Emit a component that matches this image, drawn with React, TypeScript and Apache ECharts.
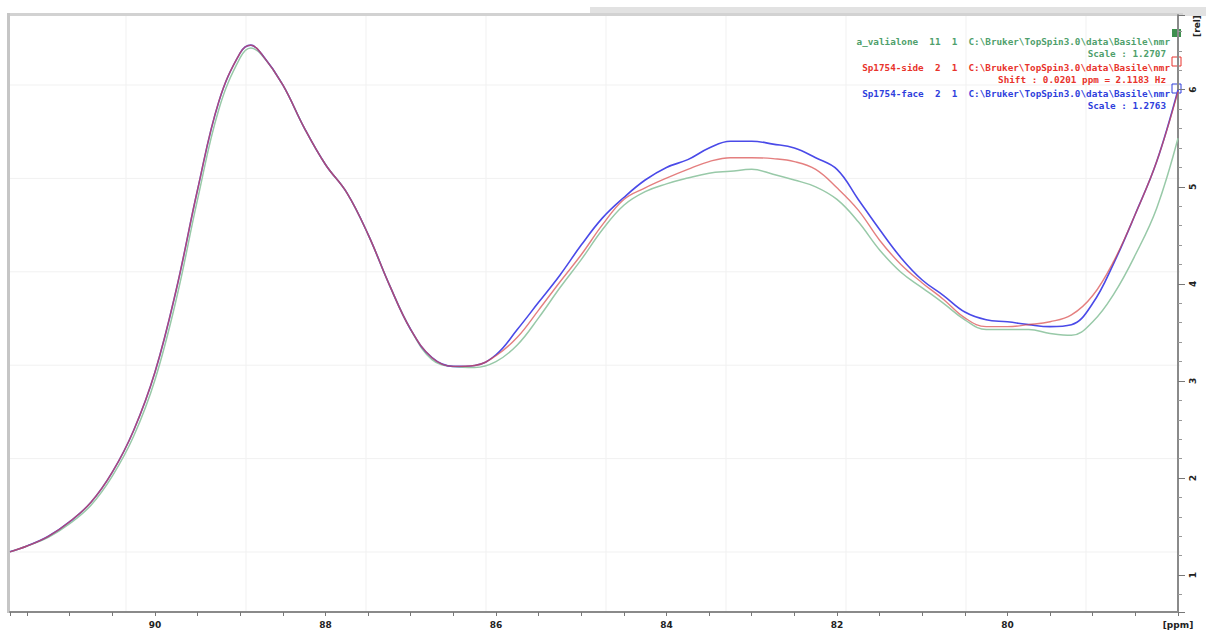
import React, { useEffect, useRef } from "react";
import * as echarts from "echarts";

const ppm = [
  91.7, 91.5, 91.25, 91.0, 90.75, 90.5, 90.25, 90.0, 89.75, 89.5, 89.25, 89.0, 88.875,
  88.75, 88.5, 88.25, 88.0, 87.75, 87.5, 87.25, 87.0, 86.75, 86.5, 86.25, 86.0,
  85.75, 85.5, 85.25, 85.0, 84.75, 84.5, 84.25, 84.0, 83.75, 83.5, 83.25, 83.0,
  82.75, 82.5, 82.25, 82.0, 81.75, 81.5, 81.25, 81.0, 80.75, 80.5, 80.25, 80.0,
  79.75, 79.5, 79.25, 79.0, 78.75, 78.5, 78.25, 78.0,
];

const valialone = [
  1.24, 1.3, 1.39, 1.53, 1.72, 2.02, 2.43, 3.01, 3.84, 4.87, 5.8, 6.33, 6.43,
  6.36, 6.05, 5.61, 5.23, 4.94, 4.51, 3.99, 3.53, 3.22, 3.15, 3.14, 3.2,
  3.37, 3.65, 3.96, 4.25, 4.56, 4.81, 4.95, 5.03, 5.09, 5.14, 5.16, 5.18,
  5.13, 5.07, 5.0, 4.87, 4.64, 4.35, 4.12, 3.96, 3.8, 3.63, 3.53, 3.53,
  3.53, 3.49, 3.47, 3.61, 3.9, 4.3, 4.78, 5.5,
];

const side = [
  1.24, 1.3, 1.4, 1.55, 1.75, 2.06, 2.49, 3.09, 3.94, 4.97, 5.88, 6.38, 6.46,
  6.37, 6.05, 5.61, 5.23, 4.94, 4.51, 3.99, 3.53, 3.24, 3.15, 3.16, 3.26,
  3.45, 3.73, 4.02, 4.3, 4.61, 4.87, 4.99, 5.09, 5.18, 5.26, 5.3, 5.3,
  5.29, 5.26, 5.18, 4.99, 4.76, 4.45, 4.2, 4.01, 3.84, 3.65, 3.56, 3.56,
  3.58, 3.61, 3.68, 3.88, 4.24, 4.72, 5.26, 5.98,
];

const face = [
  1.24, 1.3, 1.4, 1.55, 1.75, 2.06, 2.49, 3.09, 3.94, 4.97, 5.88, 6.38, 6.46,
  6.37, 6.05, 5.61, 5.23, 4.94, 4.51, 3.99, 3.53, 3.24, 3.15, 3.16, 3.27,
  3.53, 3.81, 4.09, 4.4, 4.68, 4.89, 5.07, 5.2, 5.28, 5.4, 5.47, 5.47,
  5.44, 5.4, 5.3, 5.18, 4.87, 4.56, 4.27, 4.04, 3.88, 3.71, 3.63, 3.61,
  3.58, 3.56, 3.58, 3.8, 4.22, 4.72, 5.26, 6.0,
];

const legendLines = [
  { name: "a_valialone  11  1  C:\\Bruker\\TopSpin3.0\\data\\Basile\\nmr", info: "Scale : 1.2707", color: "#4f9f6c" },
  { name: "Sp1754-side  2  1  C:\\Bruker\\TopSpin3.0\\data\\Basile\\nmr", info: "Shift : 0.0201 ppm = 2.1183 Hz", color: "#e8332c" },
  { name: "Sp1754-face  2  1  C:\\Bruker\\TopSpin3.0\\data\\Basile\\nmr", info: "Scale : 1.2763", color: "#2f3fdc" },
];

const xUnit = "[ppm]";
const yUnit = "[rel]";

export default function App() {
  const ref = useRef<HTMLDivElement>(null);
  useEffect(() => {
    if (!ref.current) return;
    const chart = echarts.init(ref.current, null, { renderer: "svg" });
    const mk = (vals: number[]) => ppm.map((p, i) => [p, vals[i]]);

    const graphics: any[] = [];
    graphics.push({ type: "rect", shape: { x: 590, y: 7, width: 616, height: 9 }, style: { fill: "#e2e2e2" }, silent: true });
    graphics.push({ type: "rect", shape: { x: 7, y: 13, width: 1176, height: 3 }, style: { fill: "#d2d2d2" }, silent: true });
    graphics.push({ type: "rect", shape: { x: 7, y: 13, width: 3, height: 600 }, style: { fill: "#c6c6c6" }, silent: true });
    for (let k = 0; k < 9; k++) {
      const gx = 126 + k * 120;
      graphics.push({ type: "line", shape: { x1: gx, y1: 16, x2: gx, y2: 611 }, style: { stroke: "#f1f1f1", lineWidth: 1 }, silent: true, z: -1 });
    }
    for (let k = 0; k < 6; k++) {
      const gy = 85 + k * 93.4;
      graphics.push({ type: "line", shape: { x1: 10, y1: gy, x2: 1180, y2: gy }, style: { stroke: "#f1f1f1", lineWidth: 1 }, silent: true, z: -1 });
    }
    legendLines.forEach((l, i) => {
      const y0 = 41 + i * 26;
      graphics.push({
        type: "text", x: 1170, y: y0,
        style: { text: l.name, fill: l.color, font: "bold 9.3px 'DejaVu Sans Mono', monospace", textAlign: "right", textVerticalAlign: "middle" },
      });
      graphics.push({
        type: "text", x: 1166, y: y0 + 12,
        style: { text: l.info, fill: l.color, font: "bold 9.3px 'DejaVu Sans Mono', monospace", textAlign: "right", textVerticalAlign: "middle" },
      });
    });
    graphics.push({ type: "rect", shape: { x: 1172, y: 29, width: 9, height: 8 }, style: { fill: "#3f8f4f" } });
    graphics.push({ type: "rect", shape: { x: 1172, y: 57, width: 9, height: 9 }, style: { fill: "none", stroke: "#e8332c", lineWidth: 1 } });
    graphics.push({ type: "rect", shape: { x: 1172, y: 84, width: 9, height: 9 }, style: { fill: "none", stroke: "#2f3fdc", lineWidth: 1 } });
    graphics.push({
      type: "text", x: 1197, y: 26, rotation: Math.PI / 2,
      style: { text: yUnit, fill: "#222", font: "bold 9px 'DejaVu Sans', sans-serif", textAlign: "center", textVerticalAlign: "middle" },
    });

    chart.setOption({
      animation: false,
      backgroundColor: "#ffffff",
      grid: { left: 10, right: 28, top: 15, bottom: 22, containLabel: false },
      xAxis: {
        type: "value",
        inverse: true,
        min: 78,
        max: 91.7,
        interval: 0.5,
        axisLine: { show: true, lineStyle: { color: "#8a8a8a", width: 2 } },
        axisTick: { show: true, length: 4, lineStyle: { color: "#777" } },
        splitLine: { show: false },
        axisLabel: {
          interval: 0,
          margin: 8,
          color: "#222",
          fontWeight: "bold",
          fontSize: 9,
          fontFamily: "DejaVu Sans",
          formatter: (v: number) => {
            const r = Math.round(v);
            if (Math.abs(v - r) > 1e-6) return "";
            if (r === 78) return xUnit;
            return r % 2 === 0 ? String(r) : "";
          },
        },
      },
      yAxis: {
        type: "value",
        position: "right",
        min: 0.62,
        max: 6.77,
        splitNumber: 6,
        axisLine: { show: true, lineStyle: { color: "#8a8a8a", width: 2 } },
        axisTick: { show: true, length: 7, lineStyle: { color: "#777" } },
        minorTick: { show: true, splitNumber: 5, length: 4, lineStyle: { color: "#999" } },
        splitLine: { show: false },
        axisLabel: {
          rotate: 90,
          margin: 10,
          color: "#222",
          fontWeight: "bold",
          fontSize: 9,
          fontFamily: "DejaVu Sans",
          showMinLabel: false,
          showMaxLabel: false,
        },
      },
      graphic: graphics,
      series: [
        { name: "a_valialone", type: "line", data: mk(valialone), smooth: 0.4, showSymbol: false, lineStyle: { color: "#98c9a8", width: 1.5 }, z: 2 },
        { name: "Sp1754-face", type: "line", data: mk(face), smooth: 0.4, showSymbol: false, lineStyle: { color: "#4a4ae8", width: 1.6 }, z: 3 },
        { name: "Sp1754-side", type: "line", data: mk(side), smooth: 0.4, showSymbol: false, lineStyle: { color: "#d84848", width: 1.4, opacity: 0.7 }, z: 4 },
      ],
    });
    return () => chart.dispose();
  }, []);
  return <div ref={ref} style={{ position: "fixed", left: 0, top: 0, width: 1206, height: 634, background: "#fff" }} />;
}
